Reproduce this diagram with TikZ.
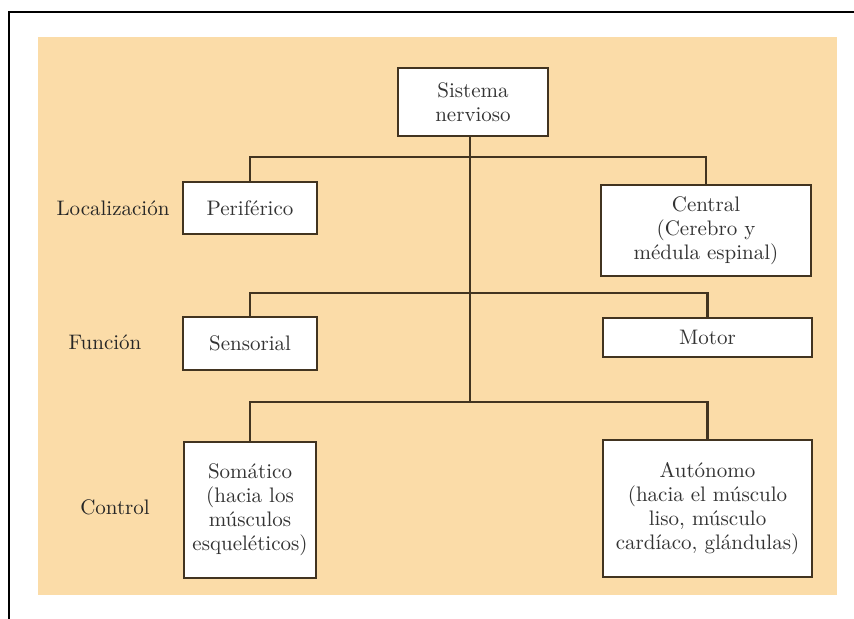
\documentclass[tikz,border=0pt]{standalone}
\usepackage{tikz}
\usetikzlibrary{calc}

\definecolor{peach}{RGB}{251,220,168}
\definecolor{boxline}{RGB}{66,52,32}

\begin{document}
\begin{tikzpicture}[x=0.5pt,y=-0.5pt]
	\tikzset{level/.style = {text=black!85, font=\fontsize{10.5}{12}\selectfont}}
	\tikzset{part/.style = {draw=boxline, line width=1.1pt, fill=white, inner sep=0pt,
	    align=center, text=black!80, font=\fontsize{10.5}{12}\selectfont}}
	\tikzset{edge/.style = {draw=boxline, line width=1.1pt}}

	% frame
	\useasboundingbox (0,0) rectangle (854,619);
	\fill[white] (0,0) rectangle (854,619);
	\draw[line width=1pt] (9,619) -- (9,12) -- (854,12);
	\fill[peach] (38,37) rectangle (837,595);

	% vertices
	\node[part, minimum width=75pt, minimum height=34pt] (sn) at (473,102) {Sistema\\nervioso};
	\node[part, minimum width=67pt, minimum height=26pt] (per) at (250,208) {Periférico};
	\node[part, minimum width=105pt, minimum height=45.5pt] (cen) at (706,230.5) {Central\\(Cerebro y\\médula espinal)};
	\node[part, minimum width=67pt, minimum height=26.5pt] (sen) at (250,343.5) {Sensorial};
	\node[part, minimum width=104.5pt, minimum height=19.5pt] (mot) at (707.5,337.5) {Motor};
	\node[part, minimum width=66pt, minimum height=68pt] (som) at (250,510) {Somático\\(hacia los\\músculos\\esqueléticos)};
	\node[part, minimum width=104.5pt, minimum height=68.5pt] (aut) at (707.5,508.5) {Autónomo\\(hacia el músculo\\liso, músculo\\cardíaco, glándulas)};

	\node[level] (loc) at (113,208) {Localización};
	\node[level] (fun) at (105,342) {Función};
	\node[level] (con) at (115,507) {Control};

	\coordinate (b1) at (470,157);
	\coordinate (b2) at (470,293);
	\coordinate (b3) at (470,402);

	% edges
	\draw[edge] (sn.south -| b3) -- (b3);
	\draw[edge] (per.north) |- (b1) -| (cen.north);
	\draw[edge] (sen.north) |- (b2) -| (mot.north);
	\draw[edge] (som.north) |- (b3) -| (aut.north);
\end{tikzpicture}
\end{document}
